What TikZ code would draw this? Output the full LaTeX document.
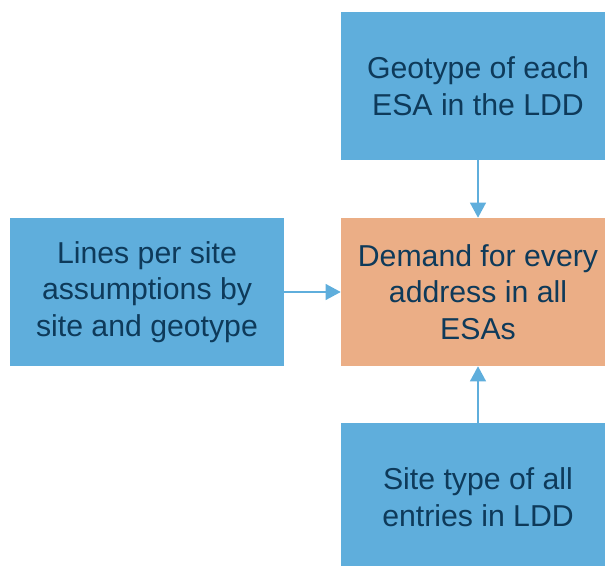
\documentclass[tikz,border=0pt]{standalone}
\usepackage{fontspec}
\setmainfont{Liberation Sans}
\usepackage{tikz}
\usetikzlibrary{positioning, arrows.meta}

\definecolor{boxblue}{HTML}{5FAEDC}
\definecolor{boxorange}{HTML}{EBAE86}
\definecolor{textnavy}{HTML}{0E3A5A}

\begin{document}
\begin{tikzpicture}[
inbox/.style={fill=boxblue, text=textnavy, align=center, inner sep=0pt, minimum width=6.85cm, minimum height=3.7cm, font=\fontsize{21.5}{26}\selectfont},
outbox/.style={inbox, fill=boxorange},
feed/.style={draw=boxblue, line width=1.2pt, -{Triangle[width=0.4cm, length=0.38cm]}}
]

\useasboundingbox (0,0) rectangle (15.125,-14.15);
\clip (0,0) rectangle (15.125,-14.15);

\node[outbox] (demand) at (11.95, -7.3) {Demand for every\\address in all\\ESAs};
\node[inbox] (geotype) at (11.95, -2.15) {Geotype of each\\ESA in the LDD};
\node[inbox] (lines) at (3.675, -7.3) {Lines per site\\assumptions by\\site and geotype};
\node[inbox] (sitetype) at (11.95, -12.425) {Site type of all\\entries in LDD};

\draw[feed] (geotype) -- (demand);
\draw[feed] (lines) -- (demand);
\draw[feed] (sitetype) -- (demand);

\end{tikzpicture}
\end{document}
